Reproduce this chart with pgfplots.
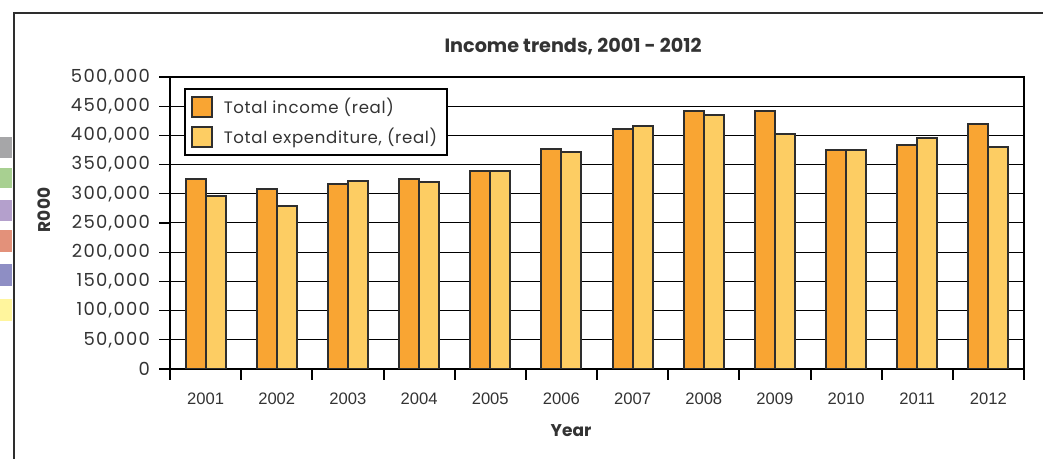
\documentclass[border=0pt]{standalone}
\usepackage{pgfplots}
\pgfplotsset{compat=1.18}
\usepackage{fontspec}
\setmainfont{Poppins}
\newfontfamily\tickfont{Poppins}[LetterSpace=7]
\newfontfamily\legfont{Poppins}[LetterSpace=4]
\newfontfamily\yearfont{Liberation Sans}
\definecolor{inc}{HTML}{F9A533}
\definecolor{exps}{HTML}{FDCD63}
\definecolor{edge}{HTML}{2E2E2E}
\definecolor{txt}{HTML}{333333}
\begin{document}
\begin{tikzpicture}[x=0.5pt,y=0.5pt]
\useasboundingbox (0,0) rectangle (1043,459);
% outer frame
\draw[line width=1.1pt,color=edge] (14,0) -- (14,446) -- (1043,446);
% side swatches
\fill[color={rgb,255:red,166;green,166;blue,168}] (0,301) rectangle (12,322);
\fill[color={rgb,255:red,168;green,208;blue,145}] (0,271) rectangle (12,291);
\fill[color={rgb,255:red,180;green,160;blue,204}] (0,238) rectangle (12,259);
\fill[color={rgb,255:red,227;green,145;blue,122}] (0,207) rectangle (12,229);
\fill[color={rgb,255:red,142;green,142;blue,196}] (0,173) rectangle (12,195);
\fill[color={rgb,255:red,255;green,245;blue,157}] (0,138) rectangle (12,160);
\begin{axis}[
  at={(85pt,45pt)}, anchor=south west,
  scale only axis, width=427pt, height=146pt,
  ybar=0pt, bar width=10pt,
  xmin=-0.5, xmax=11.5, ymin=0, ymax=500000,
  xtick={-0.5,0.5,...,11.5},
  x tick label as interval,
  xticklabels={2001,2002,2003,2004,2005,2006,2007,2008,2009,2010,2011,2012},
  x tick label style={font=\yearfont\fontsize{8.3}{10}\selectfont, text=txt, yshift=-3pt},
  ytick={0,50000,...,500000},
  scaled y ticks=false,
  yticklabel={\pgfmathprintnumber[fixed,precision=0,1000 sep={,},assume math mode=true]{\tick}},
  y tick label style={font=\tickfont\fontsize{9}{10}\selectfont, text=txt, xshift=-1pt},
  xtick pos=bottom, ytick pos=left,
  tick align=outside,
  major tick length=5.5pt,
  xtick style={line width=1pt, color=black},
  ytick style={line width=0.6pt, color=black},
  ymajorgrids, grid style={line width=0.5pt, color=black},
  axis line style={line width=1pt, color=black},
  legend style={at={(0.0164,0.962)}, anchor=north west, draw=black, line width=0.9pt,
    font=\legfont\fontsize{8.3}{10}\selectfont, text=txt, inner xsep=3pt, inner ysep=2.5pt,
    row sep=1.5pt, legend cell align=left},
  legend image code/.code={\draw[#1, line width=0.9pt] (0pt,-5pt) rectangle (10pt,5pt);
    \path (13.5pt,0pt);},
]
\addplot[fill=inc, draw=edge, line width=1pt] coordinates {
 (0,325200) (1,307600) (2,316600) (3,325200) (4,339400) (5,377000)
 (6,411100) (7,442600) (8,442600) (9,374200) (10,383800) (11,420300)};
\addlegendentry{Total income (real)}
\addplot[fill=exps, draw=edge, line width=1pt] coordinates {
 (0,296700) (1,278500) (2,321800) (3,319500) (4,339400) (5,371300)
 (6,416900) (7,434500) (8,402600) (9,374200) (10,395800) (11,379300)};
\addlegendentry{Total expenditure, (real)}
\end{axis}
\node[font=\bfseries\fontsize{9.6}{11}\selectfont, text=txt] at (573,412) {Income trends, 2001 - 2012};
\node[font=\bfseries\fontsize{8.5}{10}\selectfont, text=txt] at (571,28) {Year};
\node[font=\bfseries\fontsize{8.5}{10}\selectfont, text=txt, rotate=90] at (44,249) {R000};
\end{tikzpicture}
\end{document}
